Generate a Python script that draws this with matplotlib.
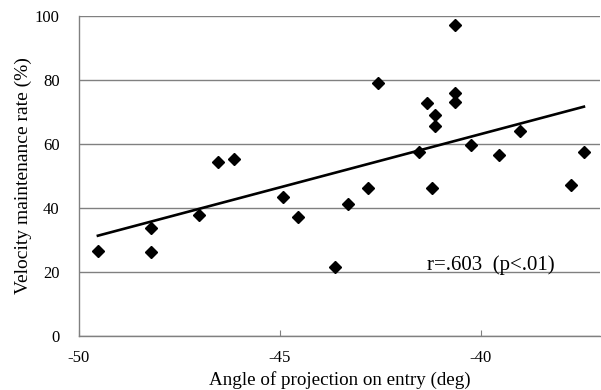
import numpy as np
import matplotlib
matplotlib.use("Agg")
import matplotlib.pyplot as plt

angle = [-49.53, -48.22, -48.22, -47.02, -46.53, -46.14, -44.93, -44.55, -43.64,
         -43.32, -42.82, -42.55, -41.53, -41.34, -41.23, -41.14, -41.14, -40.65,
         -40.65, -40.65, -40.25, -39.54, -39.04, -37.75, -37.44]
rate = [26.6, 33.6, 26.25, 37.9, 54.3, 55.4, 43.3, 37.3, 21.7,
        41.2, 46.25, 79.2, 57.6, 72.7, 46.25, 69.0, 65.6, 97.1,
        76.0, 73.2, 59.6, 56.5, 64.1, 47.2, 57.4]
xticks = [-50, -45, -40]
yticks = [0, 20, 40, 60, 80, 100]
annotation = "r=.603  (p<.01)"

plt.rcParams['font.family'] = ['Liberation Serif', 'DejaVu Serif']

fig = plt.figure(figsize=(6.01, 3.90), dpi=100)
ax = fig.add_axes([79/601, 1 - 336/390, (600 - 79)/601, (336 - 16)/390])

x = np.array(angle)
y = np.array(rate)
slope, intercept = np.polyfit(x, y, 1)
xl = np.array([x.min(), x.max()])
ax.plot(xl, slope * xl + intercept, color='black', lw=1.9, zorder=3)
ax.plot(x, y, linestyle='none', marker='D', markersize=6.5, color='black', zorder=4)

ax.set_xlim(-50, -50 + (600 - 79) / 40.2)
ax.set_ylim(0, 100)
ax.set_xticks(xticks)
ax.set_yticks(yticks)
ax.set_xticklabels([str(t) for t in xticks])
ax.set_yticklabels([str(t) for t in yticks])
ax.yaxis.grid(True, color='#808080', lw=1.0)
ax.set_axisbelow(True)
for s in ['top', 'right']:
    ax.spines[s].set_visible(False)
for s in ['left', 'bottom']:
    ax.spines[s].set_color('#808080')
    ax.spines[s].set_linewidth(1.0)
ax.tick_params(axis='x', direction='in', length=4, color='#808080', labelsize=12, pad=10)
ax.tick_params(axis='y', length=0, labelsize=12, pad=14)

ax.set_xlabel("Angle of projection on entry (deg)", fontsize=13.7, labelpad=4)
ax.set_ylabel("Velocity maintenance rate (%)", fontsize=14, labelpad=2)
ax.text(-41.35, 22.2, annotation, fontsize=15, ha='left', va='center')

fig.savefig("out.png", dpi=100)
